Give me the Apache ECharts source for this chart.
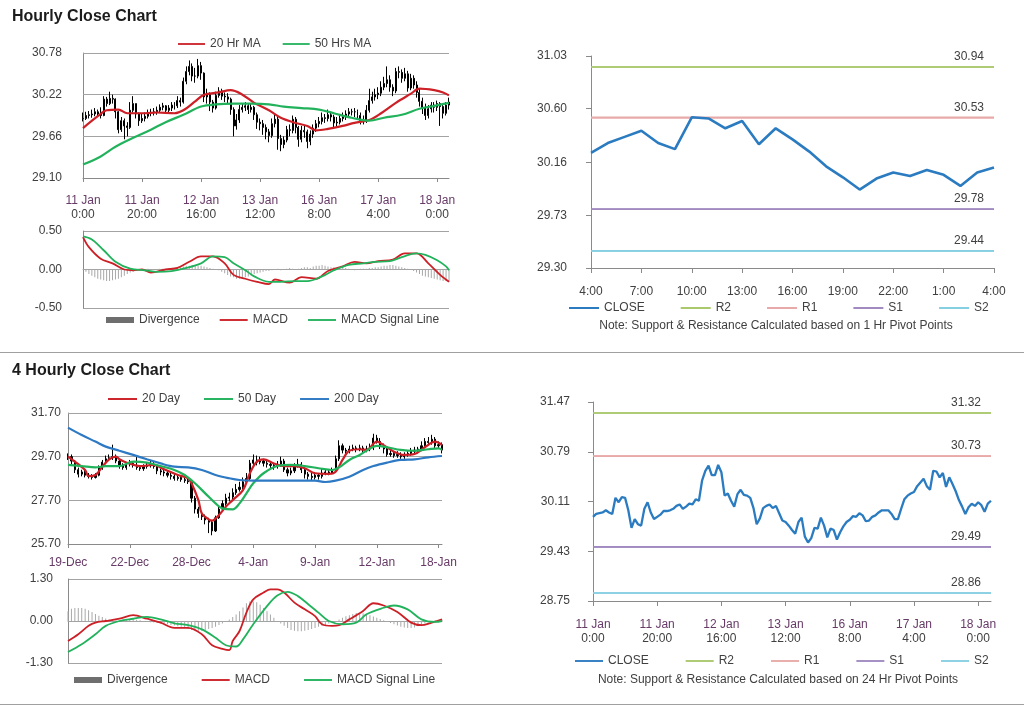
<!DOCTYPE html>
<html><head><meta charset="utf-8">
<script src="https://cdn.jsdelivr.net/npm/echarts@6/dist/echarts.min.js"></script>
<style>html,body{margin:0;padding:0;background:#fff}#c{width:1024px;height:706px}</style>
</head><body><div id="c"></div>
<script>
// ---------------- DATA ----------------
// Hourly chart (11 Jan 0:00 .. 18 Jan 4:00, trading hours)
const hourTickLabels = [['11 Jan','0:00'],['11 Jan','20:00'],['12 Jan','16:00'],['13 Jan','12:00'],['16 Jan','8:00'],['17 Jan','4:00'],['18 Jan','0:00']];
const hourlyClose = [
29.90,29.94,29.95,29.96,29.99,29.96,29.94,30.16,30.10,30.17,
30.16,29.99,29.75,29.87,29.80,29.78,30.01,30.10,29.96,29.87,
29.90,29.93,29.98,29.98,29.99,30.01,30.05,30.07,30.01,30.04,
30.08,30.07,30.14,30.12,30.40,30.53,30.60,30.47,30.47,30.61,
30.51,30.19,30.22,30.12,30.04,30.21,30.27,30.20,30.19,30.16,
30.02,29.80,29.88,30.02,30.05,30.07,30.02,30.05,29.95,29.85,
29.83,29.78,29.72,29.67,29.83,29.89,29.63,29.55,29.61,29.75,
29.74,29.89,29.78,29.62,29.74,29.72,29.59,29.69,29.77,29.83,
29.86,29.91,29.90,29.95,29.92,29.84,29.85,29.90,29.92,29.96,
29.99,29.99,29.99,29.94,29.87,29.87,30.01,30.14,30.19,30.22,
30.24,30.32,30.37,30.42,30.32,30.27,30.53,30.52,30.44,30.50,
30.31,30.44,30.35,30.25,30.13,30.04,29.94,30.03,30.08,30.05,
30.10,30.06,29.97,30.08,30.12];
const hourlyHigh = [
29.98,29.99,30.00,30.02,30.04,30.02,30.05,30.20,30.19,30.26,
30.22,30.17,30.00,29.92,29.90,29.85,30.12,30.20,30.10,29.98,
29.96,29.98,30.02,30.03,30.04,30.06,30.09,30.11,30.08,30.08,
30.12,30.12,30.20,30.18,30.45,30.60,30.68,30.64,30.58,30.70,
30.66,30.52,30.30,30.25,30.15,30.26,30.32,30.30,30.25,30.24,
30.18,30.05,29.96,30.08,30.10,30.12,30.10,30.10,30.07,29.98,
29.90,29.88,29.82,29.76,29.90,29.95,29.92,29.68,29.66,29.80,
29.82,29.94,29.92,29.80,29.80,29.80,29.75,29.74,29.82,29.88,
29.92,29.98,29.96,30.02,29.99,29.95,29.92,29.96,29.98,30.01,
30.04,30.03,30.04,30.02,29.98,29.94,30.08,30.30,30.26,30.30,
30.32,30.40,30.46,30.60,30.48,30.36,30.58,30.60,30.56,30.58,
30.54,30.50,30.48,30.40,30.30,30.18,30.10,30.08,30.12,30.12,
30.14,30.12,30.10,30.12,30.18];
const hourlyLow = [
29.86,29.88,29.90,29.91,29.93,29.92,29.90,29.93,30.06,30.08,
30.10,29.90,29.70,29.72,29.62,29.66,29.76,29.98,29.90,29.80,
29.84,29.86,29.90,29.93,29.94,29.95,29.98,30.01,29.97,29.98,
30.00,30.02,30.04,30.06,30.10,30.36,30.48,30.40,30.38,30.44,
30.42,30.12,30.10,30.00,29.98,30.02,30.18,30.15,30.12,30.10,
29.95,29.66,29.75,29.84,29.98,30.00,29.96,29.98,29.88,29.76,
29.74,29.68,29.62,29.58,29.64,29.78,29.48,29.46,29.50,29.58,
29.66,29.70,29.70,29.52,29.58,29.64,29.50,29.54,29.64,29.72,
29.78,29.82,29.84,29.86,29.86,29.78,29.79,29.82,29.86,29.88,
29.92,29.94,29.92,29.88,29.82,29.82,29.84,29.98,30.10,30.14,
30.16,30.20,30.28,30.32,30.26,30.20,30.24,30.44,30.38,30.40,
30.26,30.28,30.30,30.18,30.06,29.96,29.88,29.90,29.98,29.98,
30.00,29.80,29.90,29.94,30.02];
const ma20Hr = [[0,29.77],[5,29.93],[8,30.01],[12,30.02],[15,29.97],[21,29.97],[25,29.98],[31,29.97],[34,30.01],[38,30.13],[41,30.22],[46,30.25],[50,30.28],[54,30.22],[58,30.11],[63,30.01],[67,29.91],[72,29.84],[76,29.80],[79,29.74],[83,29.76],[88,29.80],[92,29.84],[97,29.88],[101,29.97],[106,30.11],[111,30.23],[114,30.30],[119,30.28],[122,30.25],[124,30.21]];
const ma50Hr = [[0,29.28],[6,29.39],[11,29.52],[17,29.64],[23,29.75],[28,29.85],[34,29.95],[40,30.06],[45,30.09],[51,30.10],[57,30.10],[63,30.09],[68,30.06],[74,30.04],[80,30.02],[85,29.97],[91,29.91],[97,29.87],[102,29.91],[108,29.95],[114,30.03],[119,30.07],[124,30.11]];
const macdHr = [[0,0.42],[2,0.29],[6,0.14],[10,0.08],[14,0.00],[17,-0.01],[20,0.00],[23,-0.04],[28,0.00],[32,0.02],[36,0.10],[40,0.17],[44,0.17],[48,0.08],[51,-0.07],[55,-0.12],[59,-0.16],[63,-0.19],[65,-0.13],[70,-0.17],[74,-0.10],[79,-0.12],[83,-0.02],[88,0.04],[92,0.10],[96,0.08],[100,0.11],[105,0.13],[109,0.21],[113,0.21],[117,0.08],[121,-0.07],[124,-0.16]];
const signalHr = [[0,0.43],[3,0.39],[7,0.25],[11,0.10],[16,0.01],[21,-0.01],[25,-0.03],[30,-0.02],[35,0.02],[40,0.08],[44,0.17],[48,0.16],[51,0.08],[55,-0.01],[58,-0.09],[63,-0.16],[67,-0.16],[72,-0.15],[76,-0.15],[81,-0.09],[85,-0.01],[90,0.06],[95,0.08],[99,0.10],[104,0.11],[108,0.16],[113,0.21],[116,0.19],[120,0.12],[123,0.04],[124,-0.01]];
const divergenceHr = [
0,-0.03,-0.06,-0.08,-0.10,-0.12,-0.13,-0.14,-0.15,-0.15,-0.14,-0.13,-0.12,
-0.10,-0.08,-0.06,-0.04,-0.03,-0.02,-0.01,0.00,
0.00,0.01,0.00,-0.01,0.00,0.01,0.01,0.00,0.01,0.01,0.02,0.02,
0.03,0.04,0.05,0.05,0.06,0.06,0.05,0.05,0.04,0.03,0.02,0.01,
0.00,-0.01,-0.03,-0.05,-0.07,-0.09,-0.10,-0.12,-0.12,-0.11,-0.10,-0.09,-0.08,-0.06,-0.05,-0.04,
-0.03,-0.02,-0.02,-0.01,0.00,0.01,-0.01,0.00,0.01,0.02,0.01,0.00,
0.01,0.02,0.03,0.03,0.02,0.04,0.05,0.05,0.06,0.05,0.04,0.03,0.03,
0.02,0.02,0.03,0.02,0.01,0.00,-0.01,0.00,0.01,0.01,0.01,0.02,0.02,0.03,0.03,
0.04,0.05,0.05,0.06,0.06,0.05,0.04,0.03,0.02,0.01,0.00,-0.02,
-0.04,-0.06,-0.08,-0.09,-0.10,-0.11,-0.12,-0.13,-0.14,-0.15,-0.15,-0.16];
const tlYTicks = [29.10, 29.66, 30.22, 30.78];
const tlMacdTicks = [-0.50, 0.00, 0.50];

// Last 24 hours (1 Hr pivots)
const lastDayLabels = ['4:00','5:00','6:00','7:00','8:00','9:00','10:00','11:00','12:00','13:00','14:00','15:00','16:00','17:00','18:00','19:00','20:00','21:00','22:00','23:00','0:00','1:00','2:00','3:00','4:00'];
const lastDayStart = 100;
const pivotNames = ['R2','R1','S1','S2'];
const pivots1Hr = [30.94, 30.53, 29.78, 29.44];
const trYTicks = [29.30, 29.73, 30.16, 30.60, 31.03];

// 4 hourly chart
const dayLabels = ['19-Dec','22-Dec','28-Dec','4-Jan','9-Jan','12-Jan','18-Jan'];
const close4h = [
29.70,29.50,29.10,28.90,29.00,28.85,28.80,28.75,28.85,29.20,
29.45,29.60,29.65,29.70,29.50,29.30,29.20,29.35,29.40,29.30,
29.20,29.15,29.25,29.30,29.35,29.25,29.05,29.00,28.95,28.85,
28.80,28.70,28.75,28.65,28.60,28.55,27.80,27.30,27.10,26.95,
26.80,26.70,26.30,26.90,27.30,27.55,27.80,27.85,28.05,28.20,
28.30,28.55,28.70,29.40,29.55,29.45,29.50,29.40,29.35,29.30,
29.25,29.35,29.50,29.10,28.95,29.05,29.30,29.35,29.10,28.90,
28.80,28.75,28.85,28.80,28.95,29.00,28.95,29.05,29.60,30.20,
30.00,29.95,30.05,30.10,30.05,30.10,30.00,30.05,30.10,30.55,
30.40,30.20,30.05,29.80,29.85,29.75,29.80,29.70,29.80,29.85,
29.95,30.00,30.05,30.20,30.40,30.35,30.50,30.20,30.25,30.00];
const high4h = [
29.85,29.80,29.55,29.20,29.10,29.10,28.95,28.90,28.95,29.30,
29.55,29.75,29.80,30.25,29.80,29.55,29.40,29.45,29.55,29.50,
29.75,29.30,29.35,29.45,29.50,29.45,29.30,29.15,29.10,29.05,
28.95,28.90,28.85,28.85,28.75,28.70,28.60,27.90,27.40,27.20,
27.05,26.90,26.80,27.00,27.45,27.70,28.00,28.05,28.25,28.45,
28.55,28.75,28.95,29.55,29.80,29.75,29.70,29.60,29.55,29.45,
29.40,29.50,29.70,29.60,29.20,29.20,29.40,29.60,29.45,29.20,
29.00,28.95,29.00,28.95,29.15,29.10,29.10,29.20,29.75,30.45,
30.30,30.10,30.20,30.25,30.20,30.25,30.20,30.20,30.30,30.75,
30.70,30.55,30.30,30.15,30.00,29.95,29.95,29.90,29.90,29.95,
30.10,30.15,30.15,30.40,30.55,30.60,30.70,30.60,30.40,30.35];
const low4h = [
29.55,29.35,28.95,28.75,28.80,28.75,28.70,28.65,28.70,28.80,
29.10,29.40,29.50,29.55,29.40,29.15,29.10,29.10,29.25,29.20,
29.10,29.05,29.05,29.15,29.20,29.15,28.90,28.85,28.80,28.75,
28.65,28.60,28.60,28.55,28.50,28.45,27.60,27.10,26.90,26.80,
26.60,26.20,26.10,26.25,26.85,27.20,27.45,27.65,27.75,27.95,
28.10,28.20,28.45,28.60,29.30,29.30,29.35,29.25,29.20,29.15,
29.10,29.15,29.25,29.00,28.80,28.85,28.95,29.20,28.95,28.70,
28.65,28.60,28.65,28.65,28.70,28.85,28.85,28.90,29.00,29.50,
29.85,29.80,29.85,29.95,29.90,29.95,29.85,29.90,29.95,30.00,
30.30,30.05,29.85,29.70,29.70,29.65,29.65,29.60,29.60,29.70,
29.75,29.85,29.90,29.95,30.10,30.25,30.25,30.10,30.05,29.85];
const ma20Day = [[0,29.70],[2,29.47],[5,29.09],[6,28.81],[8,28.86],[10,29.24],[12,29.58],[14,29.70],[15,29.58],[17,29.43],[21,29.27],[25,29.32],[28,29.12],[32,28.86],[35,28.71],[36,28.48],[38,27.71],[39,27.10],[41,26.83],[42,26.77],[44,27.03],[46,27.41],[48,27.71],[51,28.17],[53,28.94],[55,29.47],[57,29.58],[60,29.39],[63,29.27],[66,29.27],[69,29.17],[72,28.94],[76,28.91],[78,29.01],[80,29.55],[82,29.97],[85,30.04],[87,30.01],[90,30.39],[92,30.23],[95,29.93],[98,29.78],[101,29.82],[104,30.13],[107,30.39],[109,30.23]];
const ma50Day = [[0,29.32],[4,29.27],[8,29.21],[11,29.27],[15,29.27],[19,29.47],[23,29.43],[27,29.27],[31,29.09],[34,28.86],[37,28.48],[40,28.02],[43,27.56],[45,27.33],[48,27.29],[50,27.56],[52,28.02],[54,28.48],[57,28.94],[61,29.27],[65,29.32],[69,29.27],[73,29.17],[77,29.09],[79,29.21],[82,29.55],[85,29.78],[87,29.97],[90,30.19],[93,30.13],[97,30.01],[101,29.97],[105,30.04],[108,30.08],[109,30.01]];
const ma200Day = [[0,31.03],[4,30.69],[8,30.39],[11,30.16],[15,29.97],[19,29.78],[23,29.58],[27,29.39],[31,29.24],[35,29.21],[39,29.09],[43,28.86],[47,28.71],[50,28.63],[54,28.60],[63,28.60],[72,28.60],[75,28.54],[78,28.60],[82,28.78],[86,29.09],[89,29.27],[93,29.43],[97,29.55],[101,29.58],[105,29.67],[109,29.73]];
const macd4h = [[0,-0.62],[3,-0.41],[6,-0.15],[8,-0.05],[11,0.00],[15,0.07],[19,0.18],[23,0.07],[27,-0.05],[31,-0.21],[35,-0.21],[39,-0.41],[42,-0.75],[45,-0.86],[47,-0.90],[48,-0.62],[50,-0.31],[52,0.26],[54,0.67],[57,0.88],[59,0.98],[61,0.98],[63,0.88],[66,0.57],[69,0.36],[72,0.15],[74,-0.10],[77,-0.15],[79,-0.13],[82,0.05],[86,0.31],[89,0.55],[92,0.48],[96,0.28],[100,-0.05],[103,-0.13],[106,-0.05],[109,0.05]];
const signal4h = [[0,-0.96],[4,-0.72],[8,-0.41],[11,-0.15],[15,0.00],[19,0.07],[23,0.13],[27,0.05],[31,-0.07],[35,-0.13],[39,-0.26],[43,-0.52],[46,-0.75],[49,-0.79],[51,-0.57],[54,-0.10],[58,0.46],[61,0.79],[64,0.90],[67,0.77],[70,0.52],[73,0.26],[76,0.00],[80,-0.10],[84,-0.05],[87,0.21],[92,0.41],[95,0.48],[99,0.36],[103,0.05],[107,-0.03],[109,0.00]];
const divergence4h = [
0.30,0.38,0.40,0.40,0.40,0.38,0.33,0.28,0.22,0.16,0.12,
0.08,0.05,0.03,0.02,0.02,0.03,0.04,0.05,0.05,0.04,
0.02,0.00,-0.02,-0.04,-0.05,-0.06,-0.08,-0.08,-0.10,-0.12,
-0.14,-0.16,-0.18,-0.20,-0.24,-0.28,-0.30,-0.30,-0.30,-0.28,-0.25,-0.22,-0.18,-0.12,-0.08,-0.02,
0.05,0.12,0.20,0.30,0.42,0.55,0.60,0.60,0.58,0.50,0.40,0.30,0.20,0.10,
0.00,-0.08,-0.15,-0.22,-0.28,-0.30,-0.32,-0.32,-0.30,-0.28,-0.25,-0.22,-0.18,-0.15,-0.12,-0.08,-0.04,0.00,
0.05,0.10,0.15,0.18,0.22,0.25,0.25,0.24,0.22,0.18,0.14,0.10,0.06,0.02,
-0.02,-0.06,-0.10,-0.14,-0.18,-0.20,-0.22,-0.22,-0.20,-0.16,-0.12,-0.08,-0.04,0.00,0.02,0.03,0.04];
const blYTicks = [25.70, 27.70, 29.70, 31.70];
const blMacdTicks = [-1.30, 0.00, 1.30];

// 24 Hr pivots
const pivots24Hr = [31.32, 30.73, 29.49, 28.86];
const brYTicks = [28.75, 29.43, 30.11, 30.79, 31.47];

// ---------------- STYLE ----------------
const FONT = '"Liberation Sans", Arial, Helvetica, sans-serif';
const NARROW = '"Liberation Sans Narrow", "Liberation Sans", Arial, sans-serif';
const GRID_C = '#a3a3a3', AXIS_C = '#8a8a8a', TXT = '#404040', DATE_C = '#673a67';
const RED = '#cc1f26', GREEN = '#22b25c', BLUE = '#2d79c3', CLOSE_C = '#2b7bc1';
const PIV_COLORS = ['#a9c96c', '#e8aaa8', '#a08ac0', '#86cfe2'];
const LINE_ICON = 'path://M0 0H30V2H0Z';

const hourIdx = hourlyClose.map((_, i) => i);
const h4Idx = close4h.map((_, i) => i);
const hourlyCandles = hourlyClose.map((c, i) => [i ? hourlyClose[i - 1] : c, c, hourlyLow[i], hourlyHigh[i]]);
const candles4h = close4h.map((c, i) => [i ? close4h[i - 1] : c, c, low4h[i], high4h[i]]);
const lastDayClose = hourlyClose.slice(lastDayStart);

const richDate = {
  a: { color: DATE_C, fontSize: 12, lineHeight: 14, fontFamily: FONT },
  b: { color: TXT, fontSize: 12, lineHeight: 14, fontFamily: FONT }
};
function hourLabel(v, i) { const t = hourTickLabels[i / 20]; return t ? '{a|' + t[0] + '}\n{b|' + t[1] + '}' : ''; }

function yLabel(margin) {
  return { margin, color: TXT, fontSize: 12, fontFamily: NARROW, formatter: v => Number(v).toFixed(2) };
}
function gridMarks(ticks) {
  return { silent: true, symbol: 'none', z: 1, label: { show: false }, emphasis: { disabled: true },
    lineStyle: { color: GRID_C, width: 1, type: 'solid' }, data: ticks.map(v => ({ yAxis: v })) };
}
function pivotSeries(xi, lastIdx, levels) {
  return pivotNames.map((n, k) => ({
    type: 'line', name: n, xAxisIndex: xi, yAxisIndex: xi, symbol: 'none', z: 2,
    lineStyle: { color: PIV_COLORS[k], width: 1.6 }, itemStyle: { color: PIV_COLORS[k] },
    data: [[0, levels[k]], [lastIdx, levels[k]]],
    markLine: { silent: true, symbol: 'none', z: 2, emphasis: { disabled: true },
      lineStyle: { color: PIV_COLORS[k], width: 1.6, type: 'solid' },
      label: { show: true, position: 'insideEndTop', formatter: levels[k].toFixed(2), color: TXT,
        fontSize: 12, fontFamily: FONT, distance: [10, 4] },
      data: [{ yAxis: levels[k] }] }
  }));
}
const lineS = (name, xi, data, color, width) => ({ type: 'line', name, xAxisIndex: xi, yAxisIndex: xi, data,
  symbol: 'none', smooth: 0.35, lineStyle: { color, width }, itemStyle: { color }, z: 3 });
const candleS = (xi, data, ticks) => ({ type: 'candlestick', xAxisIndex: xi, yAxisIndex: xi, data, barMaxWidth: 2,
  itemStyle: { color: '#000', color0: '#000', borderColor: '#000', borderColor0: '#000', borderWidth: 1 },
  markLine: gridMarks(ticks), z: 2 });
const divS = (xi, data) => ({ type: 'bar', name: 'Divergence', xAxisIndex: xi, yAxisIndex: xi, data, barWidth: 1,
  itemStyle: { color: '#a8a8a8' }, z: 2 });

const legendBase = { padding: 0, selectedMode: false, icon: LINE_ICON, textStyle: { fontSize: 12, color: TXT, fontFamily: FONT } };
const divLegend = { name: 'Divergence', icon: 'rect', itemStyle: { color: '#6e6e6e' } };

const option = {
  animation: false,
  backgroundColor: '#ffffff',
  textStyle: { fontFamily: FONT },
  title: [
    { text: 'Hourly Close Chart', left: 12, top: 9, padding: 0, textStyle: { fontSize: 16, fontWeight: 'bold', color: '#1c1c1c', fontFamily: FONT } },
    { text: '4 Hourly Close Chart', left: 12, top: 363, padding: 0, textStyle: { fontSize: 16, fontWeight: 'bold', color: '#1c1c1c', fontFamily: FONT } }
  ],
  legend: [
    Object.assign({}, legendBase, { left: 178, top: 38, itemWidth: 27, itemHeight: 8, itemGap: 22, data: ['20 Hr MA', '50 Hrs MA'] }),
    Object.assign({}, legendBase, { left: 106, top: 314, itemWidth: 28, itemHeight: 6, itemGap: 20, data: [divLegend, 'MACD', 'MACD Signal Line'] }),
    Object.assign({}, legendBase, { left: 569, top: 302, itemWidth: 30, itemHeight: 8, itemGap: 36, data: ['CLOSE', 'R2', 'R1', 'S1', 'S2'] }),
    Object.assign({}, legendBase, { left: 108, top: 393, itemWidth: 29, itemHeight: 8, itemGap: 24, data: ['20 Day', '50 Day', '200 Day'] }),
    Object.assign({}, legendBase, { left: 74, top: 674, itemWidth: 28, itemHeight: 6, itemGap: 34, data: [divLegend, 'MACD', 'MACD Signal Line'] }),
    Object.assign({}, legendBase, { left: 575, top: 655, itemWidth: 28, itemHeight: 8, itemGap: 37, data: ['CLOSE', 'R2', 'R1', 'S1', 'S2'] })
  ],
  grid: [
    { left: 83, top: 53, width: 366, height: 125 },
    { left: 83, top: 231, width: 366, height: 77 },
    { left: 591, top: 56, width: 403, height: 212 },
    { left: 68, top: 413, width: 374, height: 131 },
    { left: 68, top: 579, width: 374, height: 84 },
    { left: 593, top: 402, width: 398, height: 199 }
  ],
  xAxis: [
    { type: 'category', gridIndex: 0, data: hourIdx, boundaryGap: false,
      axisLine: { lineStyle: { color: AXIS_C } }, axisTick: { interval: 19, length: 4, lineStyle: { color: AXIS_C } },
      axisLabel: { interval: 19, margin: 16, formatter: hourLabel, rich: richDate } },
    { type: 'category', gridIndex: 1, data: hourIdx, boundaryGap: false,
      axisLine: { onZero: true, lineStyle: { color: GRID_C } }, axisTick: { show: false }, axisLabel: { show: false } },
    { type: 'category', gridIndex: 2, data: lastDayLabels, boundaryGap: false,
      axisLine: { lineStyle: { color: AXIS_C } }, axisTick: { interval: 2, length: 5, lineStyle: { color: AXIS_C } },
      axisLabel: { interval: 2, margin: 18, color: TXT, fontSize: 12, fontFamily: FONT } },
    { type: 'category', gridIndex: 3, data: h4Idx, boundaryGap: false,
      axisLine: { lineStyle: { color: AXIS_C } }, axisTick: { interval: 17, length: 4, lineStyle: { color: AXIS_C } },
      axisLabel: { interval: 17, margin: 13, color: DATE_C, fontSize: 12, fontFamily: FONT, formatter: (v, i) => dayLabels[i / 18] || '' } },
    { type: 'category', gridIndex: 4, data: h4Idx, boundaryGap: false,
      axisLine: { onZero: true, lineStyle: { color: GRID_C } }, axisTick: { show: false }, axisLabel: { show: false } },
    { type: 'category', gridIndex: 5, data: hourIdx, boundaryGap: false,
      axisLine: { lineStyle: { color: AXIS_C } }, axisTick: { interval: 19, length: 5, lineStyle: { color: AXIS_C } },
      axisLabel: { interval: 19, margin: 17, formatter: hourLabel, rich: richDate } }
  ],
  yAxis: [
    { type: 'value', gridIndex: 0, min: tlYTicks[0], max: tlYTicks[tlYTicks.length - 1],
      axisLine: { show: true, lineStyle: { color: AXIS_C } }, axisTick: { show: false }, splitLine: { show: false },
      axisLabel: Object.assign(yLabel(21), { customValues: tlYTicks }) },
    { type: 'value', gridIndex: 1, min: tlMacdTicks[0], max: tlMacdTicks[2], interval: tlMacdTicks[2],
      axisLine: { show: true, lineStyle: { color: AXIS_C } }, axisTick: { show: false },
      splitLine: { show: true, lineStyle: { color: GRID_C } }, axisLabel: yLabel(21) },
    { type: 'value', gridIndex: 2, min: trYTicks[0], max: trYTicks[trYTicks.length - 1],
      axisLine: { show: true, lineStyle: { color: AXIS_C } },
      axisTick: { show: true, length: 5, customValues: trYTicks, lineStyle: { color: AXIS_C } }, splitLine: { show: false },
      axisLabel: Object.assign(yLabel(24), { customValues: trYTicks }) },
    { type: 'value', gridIndex: 3, min: blYTicks[0], max: blYTicks[blYTicks.length - 1],
      axisLine: { show: true, lineStyle: { color: AXIS_C } }, axisTick: { show: false }, splitLine: { show: false },
      axisLabel: Object.assign(yLabel(7), { customValues: blYTicks }) },
    { type: 'value', gridIndex: 4, min: blMacdTicks[0], max: blMacdTicks[2], interval: blMacdTicks[2],
      axisLine: { show: true, lineStyle: { color: AXIS_C } }, axisTick: { show: false },
      splitLine: { show: true, lineStyle: { color: GRID_C } }, axisLabel: yLabel(15) },
    { type: 'value', gridIndex: 5, min: brYTicks[0], max: brYTicks[brYTicks.length - 1],
      axisLine: { show: true, lineStyle: { color: AXIS_C } },
      axisTick: { show: true, length: 5, customValues: brYTicks, lineStyle: { color: AXIS_C } }, splitLine: { show: false },
      axisLabel: Object.assign(yLabel(23), { customValues: brYTicks }) }
  ],
  series: [
    candleS(0, hourlyCandles, tlYTicks.slice(1)),
    lineS('20 Hr MA', 0, ma20Hr, RED, 2.2),
    lineS('50 Hrs MA', 0, ma50Hr, GREEN, 2.2),
    divS(1, divergenceHr),
    lineS('MACD', 1, macdHr, RED, 1.8),
    lineS('MACD Signal Line', 1, signalHr, GREEN, 1.8),
    { type: 'line', name: 'CLOSE', xAxisIndex: 2, yAxisIndex: 2, data: lastDayClose, symbol: 'none',
      lineStyle: { color: CLOSE_C, width: 2.6 }, itemStyle: { color: CLOSE_C }, z: 4 },
    ...pivotSeries(2, lastDayLabels.length - 1, pivots1Hr),
    candleS(3, candles4h, blYTicks.slice(1)),
    lineS('20 Day', 3, ma20Day, RED, 2.2),
    lineS('50 Day', 3, ma50Day, GREEN, 2.2),
    lineS('200 Day', 3, ma200Day, BLUE, 2.2),
    divS(4, divergence4h),
    lineS('MACD', 4, macd4h, RED, 1.8),
    lineS('MACD Signal Line', 4, signal4h, GREEN, 1.8),
    { type: 'line', name: 'CLOSE', xAxisIndex: 5, yAxisIndex: 5, data: hourlyClose, symbol: 'none',
      lineStyle: { color: CLOSE_C, width: 2.3 }, itemStyle: { color: CLOSE_C }, z: 4 },
    ...pivotSeries(5, hourlyClose.length - 1, pivots24Hr)
  ],
  graphic: [
    { type: 'line', shape: { x1: 0, y1: 352.5, x2: 1024, y2: 352.5 }, style: { stroke: '#a0a0a0', lineWidth: 1 } },
    { type: 'line', shape: { x1: 0, y1: 704.5, x2: 1024, y2: 704.5 }, style: { stroke: '#a0a0a0', lineWidth: 1 } },
    { type: 'text', x: 776, y: 326, style: { text: 'Note: Support & Resistance Calculated based on 1 Hr Pivot Points',
      fill: TXT, font: '12px ' + FONT, textAlign: 'center', textVerticalAlign: 'middle' } },
    { type: 'text', x: 778, y: 680, style: { text: 'Note: Support & Resistance Calculated based on 24 Hr Pivot Points',
      fill: TXT, font: '12px ' + FONT, textAlign: 'center', textVerticalAlign: 'middle' } }
  ]
};
const chart = echarts.init(document.getElementById('c'), null, { renderer: 'canvas' });
chart.setOption(option);
</script>
</body></html>
